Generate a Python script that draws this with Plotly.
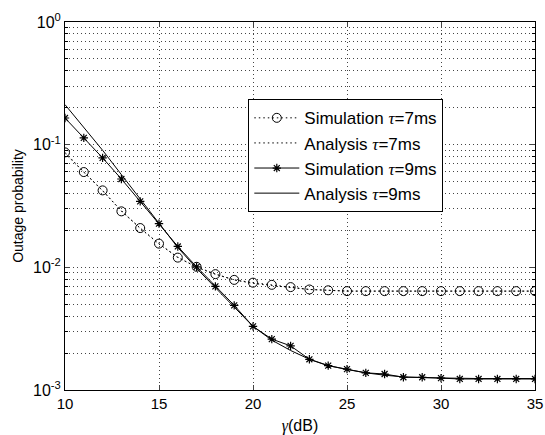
import plotly.graph_objects as go

snr_db = list(range(10, 36))

sim_7ms = [0.0865, 0.0598, 0.0424, 0.0286, 0.0209, 0.0156, 0.0120, 0.0101, 0.0088, 0.0079,
           0.0075, 0.0072, 0.0069, 0.0066, 0.0065, 0.0064, 0.0064, 0.0064, 0.0064, 0.0064,
           0.0064, 0.0064, 0.0064, 0.0064, 0.0064, 0.0064]
ana_7ms = [0.0850, 0.0600, 0.0420, 0.0290, 0.0208, 0.0155, 0.0121, 0.0100, 0.0088, 0.0079,
           0.0074, 0.0071, 0.0068, 0.0066, 0.0065, 0.0064, 0.0064, 0.0064, 0.0064, 0.0064,
           0.0064, 0.0064, 0.0064, 0.0064, 0.0064, 0.0064]
sim_9ms = [0.165, 0.1135, 0.078, 0.0525, 0.0345, 0.0227, 0.0148, 0.0101, 0.0070, 0.0049,
           0.0033, 0.0026, 0.00229, 0.00178, 0.00158, 0.00148, 0.00138, 0.00135, 0.00127, 0.00127,
           0.00125, 0.00123, 0.00123, 0.00123, 0.00123, 0.00123]
ana_9ms = [0.212, 0.138, 0.090, 0.057, 0.036, 0.0225, 0.0145, 0.0098, 0.0068, 0.0048,
           0.0033, 0.00255, 0.0021, 0.00178, 0.00158, 0.00147, 0.00138, 0.00132, 0.00128, 0.00126,
           0.00125, 0.00124, 0.00124, 0.00124, 0.00124, 0.00124]

x_ticks = [10, 15, 20, 25, 30, 35]
y_tickvals = [1e-3, 1e-2, 1e-1, 1]
y_ticktext = ["10<sup>-3</sup>", "10<sup>-2</sup>", "10<sup>-1</sup>", "10<sup>0</sup>"]

tau = "<span style='font-family:Liberation Serif;font-style:italic'>τ</span>"
grid_dash = "1px,3px"
grid_col = "#444"

fig = go.Figure()
fig.add_trace(go.Scatter(x=snr_db, y=sim_7ms, mode="lines+markers",
                         name=f"Simulation {tau}=7ms",
                         line=dict(color="black", width=1, dash="1.5px,3px"),
                         marker=dict(symbol="circle-open", size=9, color="black", line=dict(width=1))))
fig.add_trace(go.Scatter(x=snr_db, y=ana_7ms, mode="lines",
                         name=f"Analysis {tau}=7ms",
                         line=dict(color="black", width=1, dash="1.5px,3px")))
fig.add_trace(go.Scatter(x=snr_db, y=sim_9ms, mode="lines+markers",
                         name=f"Simulation {tau}=9ms",
                         line=dict(color="black", width=1),
                         marker=dict(symbol="asterisk-open", size=7, color="black", line=dict(width=1.2, color="black"))))
fig.add_trace(go.Scatter(x=snr_db, y=ana_9ms, mode="lines",
                         name=f"Analysis {tau}=9ms",
                         line=dict(color="black", width=1)))

fig.update_layout(
    width=545, height=435,
    margin=dict(l=65, r=10, t=22, b=45, autoexpand=False),
    paper_bgcolor="white", plot_bgcolor="white",
    font=dict(family="Liberation Sans, Arial", size=14, color="black"),
    showlegend=True,
    legend=dict(x=0.39, y=0.79, xanchor="left", yanchor="top",
                bordercolor="black", borderwidth=1, bgcolor="white",
                font=dict(size=17), tracegroupgap=0, itemwidth=45),
    xaxis=dict(range=[10, 35], tickvals=x_ticks, ticks="inside", ticklen=5,
               showline=True, linecolor="black", linewidth=1, mirror="ticks",
               showgrid=True, gridcolor=grid_col, griddash=grid_dash, gridwidth=1,
               zeroline=False, tickfont=dict(size=15), automargin=False,
               title=dict(text="<span style='font-family:Liberation Serif;font-style:italic'>γ</span>(dB)",
                          font=dict(size=16), standoff=10)),
    yaxis=dict(type="log", range=[-3, 0], tickvals=y_tickvals, ticktext=y_ticktext,
               ticks="inside", ticklen=5, automargin=False,
               showline=True, linecolor="black", linewidth=1, mirror="ticks",
               showgrid=True, gridcolor=grid_col, griddash=grid_dash, gridwidth=1,
               zeroline=False, tickfont=dict(size=16),
               minor=dict(dtick="D1", showgrid=True, gridcolor=grid_col, griddash=grid_dash,
                          ticks="inside", ticklen=3, tickcolor="black"),
               title=dict(text="Outage probability", font=dict(size=14), standoff=6)),
)

fig.write_html("out.html")
